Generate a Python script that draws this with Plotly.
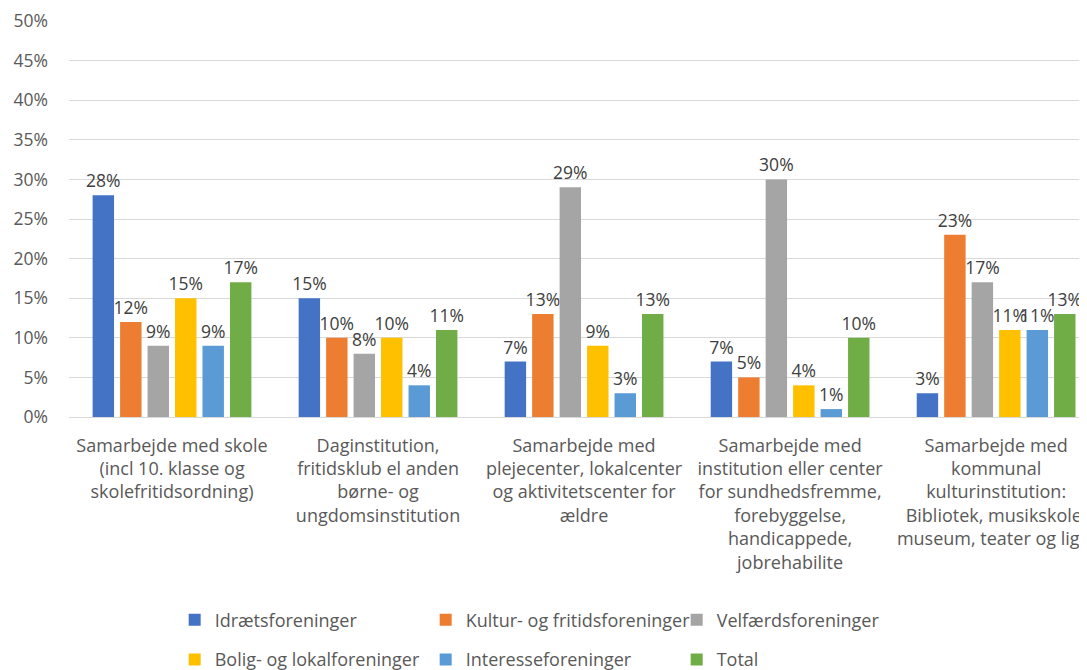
import plotly.graph_objects as go

categories = [
    "Samarbejde med skole<br>(incl 10. klasse og<br>skolefritidsordning)",
    "Daginstitution,<br>fritidsklub el anden<br>børne- og<br>ungdomsinstitution",
    "Samarbejde med<br>plejecenter, lokalcenter<br>og aktivitetscenter for<br>ældre",
    "Samarbejde med<br>institution eller center<br>for sundhedsfremme,<br>forebyggelse,<br>handicappede,<br>jobrehabilite",
    "Samarbejde med<br>kommunal<br>kulturinstitution:<br>Bibliotek, musikskole,<br>museum, teater og lign.",
]

series_names = [
    "Idrætsforeninger",
    "Kultur- og fritidsforeninger",
    "Velfærdsforeninger",
    "Bolig- og lokalforeninger",
    "Interesseforeninger",
    "Total",
]

idraet = [28, 15, 7, 7, 3]
kultur = [12, 10, 13, 5, 23]
velfaerd = [9, 8, 29, 30, 17]
bolig = [15, 10, 9, 4, 11]
interesse = [9, 4, 3, 1, 11]
total = [17, 11, 13, 10, 13]

y_ticks = [0, 5, 10, 15, 20, 25, 30, 35, 40, 45, 50]
y_tick_labels = [f"{v}%" for v in y_ticks]

series_values = [idraet, kultur, velfaerd, bolig, interesse, total]
colors = ["#4472C4", "#ED7D31", "#A5A5A5", "#FFC000", "#5B9BD5", "#70AD47"]

FONT = "Open Sans"
TXT = "#595959"
FS = 17.5
FS_X = 18

fig = go.Figure()
x_idx = list(range(len(categories)))
for i, (name, vals, col) in enumerate(zip(series_names, series_values, colors)):
    fig.add_trace(go.Bar(
        x=x_idx, y=vals, name=name,
        marker=dict(color=col, line=dict(width=0)),
        text=[f"{v}%" for v in vals],
        textposition="outside",
        textfont=dict(family=FONT, size=FS, color="#404040"),
        constraintext="none",
        cliponaxis=False,
        legend="legend" if i < 3 else "legend2",
    ))

legend_common = dict(
    orientation="h", x=0.103, xanchor="left", yanchor="middle",
    entrywidth=206, entrywidthmode="pixels",
    font=dict(family=FONT, size=FS_X, color=TXT), itemwidth=30,
    bgcolor="rgba(0,0,0,0)",
)

fig.update_layout(
    width=1087, height=670,
    margin=dict(l=61, r=0, t=13, b=261, autoexpand=False),
    paper_bgcolor="white", plot_bgcolor="white",
    barmode="group", bargap=0.2, bargroupgap=0.22,
    font=dict(family=FONT, size=FS, color=TXT),
    legend=dict(legend_common, y=-0.513),
    legend2=dict(legend_common, y=-0.613),
)

fig.update_xaxes(
    tickmode="array", tickvals=x_idx, ticktext=categories,
    range=[-0.5, 4.48], automargin=False, ticklabeloverflow="allow",
    tickfont=dict(family=FONT, size=FS_X, color=TXT),
    showline=True, linecolor="#D9D9D9", linewidth=1,
    ticks="", ticklabelstandoff=12, tickangle=0,
)
fig.update_yaxes(
    range=[0, 50], tickmode="array", tickvals=y_ticks, ticktext=y_tick_labels,
    automargin=False,
    showgrid=True, gridcolor="#D9D9D9", gridwidth=1,
    zeroline=False, showline=False,
    tickfont=dict(family=FONT, size=FS, color=TXT),
    ticklabelstandoff=20,
)

fig.write_html("out.html")
